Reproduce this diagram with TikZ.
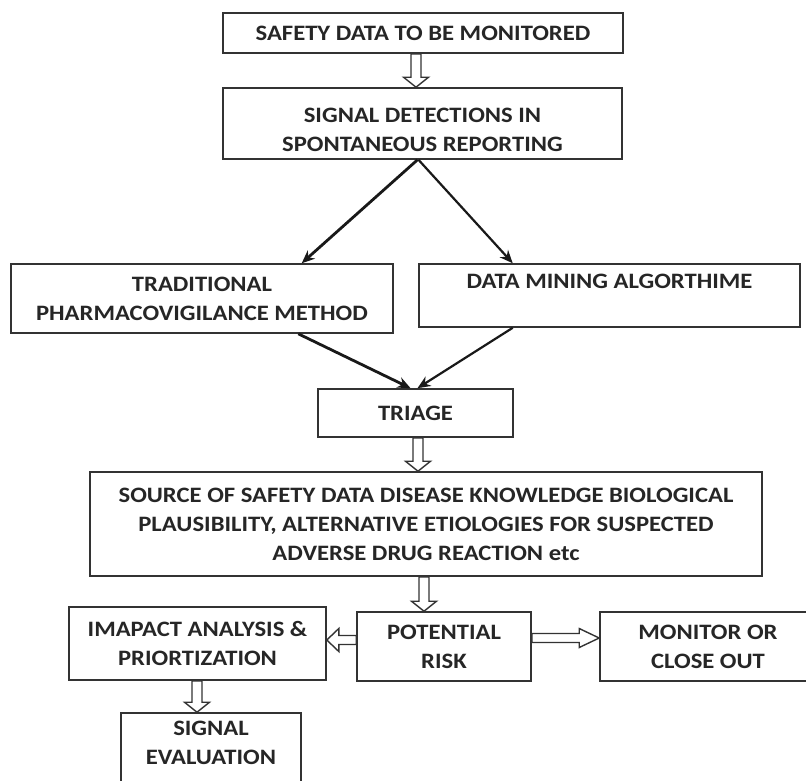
\documentclass[tikz,border=0pt]{standalone}
\usepackage{fontspec}
\setmainfont{Carlito}[FakeStretch=1.12]
\usetikzlibrary{calc,arrows.meta}
\tikzset{
  box/.style={draw=black!80, line width=1.6pt, fill=white, inner sep=0pt, align=center,
    text=black!85, font=\fontsize{22}{29}\selectfont\bfseries},
  flow/.style={line width=2.8pt, black!90, -{Stealth[length=13pt,width=11pt]}},
  flowthin/.style={line width=2.2pt, black!90, -{Stealth[length=13pt,width=11pt]}},
  hol/.style={draw=black!80, line width=1.4pt, fill=white, line join=miter}
}
\newcommand\hdown[3]{%
  \draw[hol] let \p1=(#1.south), \p2=(#2.north) in
   (#3pt-5pt,\y1) -- (#3pt-5pt,\y2+10pt) -- (#3pt-12.5pt,\y2+10pt) -- (#3pt,\y2)
   -- (#3pt+12.5pt,\y2+10pt) -- (#3pt+5pt,\y2+10pt) -- (#3pt+5pt,\y1) -- cycle;}
\newcommand\hleft[3]{%
  \draw[hol] let \p1=(#1.west), \p2=(#2.east) in
   (\x1,-#3pt+4.5pt) -- (\x2+12pt,-#3pt+4.5pt) -- (\x2+12pt,-#3pt+11.5pt) -- (\x2,-#3pt)
   -- (\x2+12pt,-#3pt-11.5pt) -- (\x2+12pt,-#3pt-4.5pt) -- (\x1,-#3pt-4.5pt) -- cycle;}
\newcommand\hright[3]{%
  \draw[hol] let \p1=(#1.east), \p2=(#2.west) in
   (\x1,-#3pt+4.5pt) -- (\x2-20pt,-#3pt+4.5pt) -- (\x2-20pt,-#3pt+9.5pt) -- (\x2,-#3pt)
   -- (\x2-20pt,-#3pt-9.5pt) -- (\x2-20pt,-#3pt-4.5pt) -- (\x1,-#3pt-4.5pt) -- cycle;}
\begin{document}
\begin{tikzpicture}[x=1pt,y=-1pt]
\useasboundingbox (0,0) rectangle (806,780);
\clip (0,0) rectangle (806,780);
\fill[white] (0,0) rectangle (806,780);

\node[box, minimum width=400pt, minimum height=40pt] (safety) at (423,33) {SAFETY DATA TO BE MONITORED};
\node[box, minimum width=399pt, minimum height=71pt] (signal) at (422.5,123.5) {\rule{0pt}{27pt}SIGNAL DETECTIONS IN\\SPONTANEOUS REPORTING};
\node[box, minimum width=382pt, minimum height=69pt] (trad) at (202,298.5) {TRADITIONAL\\PHARMACOVIGILANCE METHOD};
\node[box, minimum width=381pt, minimum height=63pt] (data) at (609.5,295.5) {DATA MINING ALGORTHIME\\\mbox{}};
\node[box, minimum width=195pt, minimum height=48pt] (triage) at (415.5,413) {TRIAGE};
\node[box, minimum width=672pt, minimum height=104pt] (source) at (426,524) {SOURCE OF SAFETY DATA DISEASE KNOWLEDGE BIOLOGICAL\\PLAUSIBILITY, ALTERNATIVE ETIOLOGIES FOR SUSPECTED\\ADVERSE DRUG REACTION etc};
\node[box, minimum width=257pt, minimum height=73pt] (impact) at (197.5,643.5) {IMAPACT ANALYSIS \&\\PRIORTIZATION};
\node[box, minimum width=174pt, minimum height=69pt] (potential) at (444,646.5) {POTENTIAL\\RISK};
\node[box, minimum width=216pt, minimum height=69pt] (monitor) at (708,646.5) {MONITOR OR\\CLOSE OUT};
\node[box, minimum width=180pt, minimum height=89pt] (evaluation) at (211,757.5) {SIGNAL\\EVALUATION\\\mbox{}};

\hdown{safety}{signal}{416}
\draw[flow] ($(signal.south)+(-5,0)$) -- ($(trad.north west)!0.76!(trad.north east)$);
\draw[flowthin] ($(signal.south)+(-4,0)$) -- ($(data.north west)!0.247!(data.north east)$);
\draw[flow] ($(trad.south west)!0.751!(trad.south east)$) -- ($(triage.north west)!0.475!(triage.north east)$);
\draw[flowthin] ($(data.south west)!0.247!(data.south east)$) -- ($(triage.north west)!0.51!(triage.north east)$);
\hdown{triage}{source}{418}
\hdown{source}{potential}{424}
\hleft{potential}{impact}{640}
\hright{potential}{monitor}{638}
\hdown{impact}{evaluation}{197}
\end{tikzpicture}
\end{document}
